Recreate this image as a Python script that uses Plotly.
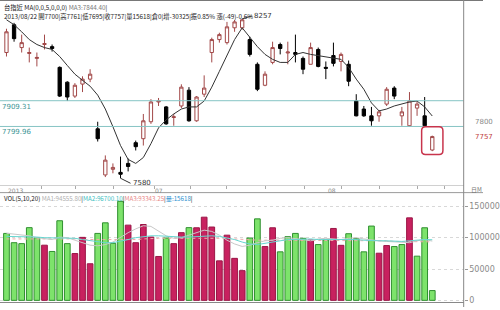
import plotly.graph_objects as go

# ---------------- data ----------------
opens = [8114, 8232, 8135, 8110, 8089, 8148, 8139, 8051, 7988, 7929,
         7980, 8001, 7790, 7594, 7618, 7605, 7643, 7731, 7748, 7820,
         7904, 7883, 7838, 7887, 7954, 7824, 7937, 8114, 8169, 8156,
         8219, 8219, 8169, 8064, 7975, 8072, 8148, 8112, 8114, 8089,
         8064, 8127, 8051, 8101, 8076, 8064, 7908, 7874, 7845, 7845,
         7895, 7963, 7845, 7803, 7878, 7845, 7700]
highs = [8215, 8240, 8190, 8135, 8114, 8190, 8148, 8055, 7992, 7984,
         8013, 8043, 7820, 7677, 7643, 7672, 7664, 7740, 7853, 7916,
         7921, 7887, 7853, 7979, 7967, 7929, 8017, 8177, 8198, 8244,
         8252, 8257, 8181, 8072, 8034, 8160, 8156, 8160, 8190, 8097,
         8156, 8135, 8076, 8156, 8114, 8080, 7937, 7887, 7883, 7870,
         7967, 7971, 7883, 7946, 7908, 7925, 7761]
lows = [8097, 8160, 8114, 8072, 8055, 8127, 8118, 7925, 7908, 7921,
        7946, 7988, 7736, 7585, 7601, 7580, 7609, 7698, 7719, 7811,
        7887, 7807, 7803, 7878, 7820, 7820, 7925, 8072, 8156, 8148,
        8202, 8211, 8097, 7950, 7971, 8064, 8106, 8064, 8072, 8022,
        8064, 8051, 8001, 8055, 8034, 7971, 7843, 7841, 7803, 7820,
        7887, 7916, 7803, 7799, 7845, 7800, 7695]
closes = [8202, 8173, 8156, 8114, 8093, 8152, 8131, 7929, 7925, 7975,
          8001, 8022, 7748, 7657, 7626, 7597, 7630, 7714, 7824, 7904,
          7908, 7811, 7841, 7967, 7824, 7925, 7963, 8169, 8190, 8223,
          8244, 8253, 8106, 7958, 8022, 8135, 8131, 8116, 8106, 8043,
          8135, 8055, 8047, 8068, 8106, 7992, 7845, 7845, 7824, 7862,
          7958, 7929, 7862, 7908, 7895, 7803, 7757]
ma5 = [8253, 8232, 8202, 8169, 8148, 8135, 8127, 8097, 8059, 8022,
       7996, 7971, 7933, 7874, 7799, 7719, 7660, 7643, 7668, 7727,
       7794, 7828, 7853, 7874, 7883, 7883, 7908, 7967, 8034, 8102,
       8169, 8219, 8181, 8139, 8106, 8085, 8072, 8072, 8106, 8114,
       8106, 8101, 8093, 8089, 8085, 8051, 8001, 7958, 7900, 7866,
       7874, 7887, 7895, 7904, 7908, 7883, 7844.40]
volumes = [106800, 92000, 90500, 116000, 100000, 88000, 78000, 127000, 90500, 74700,
           100500, 58400, 106800, 123700, 91000, 158000, 120000, 92000, 121000, 101000,
           70000, 99500, 90500, 108000, 116000, 115800, 132700, 117000, 63000, 104000,
           67000, 47400, 99500, 130000, 85800, 115800, 77400, 101600, 106800, 99000,
           96300, 89000, 96300, 114700, 87800, 106300, 98400, 77400, 118500, 75200,
           87400, 85800, 89000, 131600, 70500, 115800, 15618]
vol_dir = list("GGGGGRGGGRRRGGGGRRRRRGRRGRRRRRRRGGRRGGGGRGGRRGGGGRRGGRGGG")
vol_ma1 = [107, 106, 104, 103, 100, 98, 97, 101, 100, 96, 92, 88, 87, 89, 93, 101, 108, 114, 119, 118,
           110, 103, 99, 100, 104, 108, 112, 110, 104, 96, 90, 86, 88, 92, 95, 96, 99, 100, 99, 97,
           95, 98, 99, 98, 97, 99, 100, 98, 96, 95, 94, 93, 92, 92, 95, 97, 94.5558]
vol_ma2 = [102, 102, 101, 101, 101, 100, 100, 100, 100, 99, 97, 95, 93, 92, 92, 94, 97, 100, 102, 103,
           103, 102, 101, 101, 101, 102, 103, 103, 102, 100, 97, 93, 90, 89, 91, 94, 96, 97, 97, 98,
           98, 97, 97, 98, 98, 98, 97, 96, 95, 95, 95, 94, 94, 95, 96, 97, 96.7001]
vol_ma3 = [98, 98, 98, 99, 99, 99, 99, 99, 98, 98, 97, 97, 96, 96, 96, 96, 97, 97, 98, 99,
           99, 99, 99, 99, 100, 100, 100, 100, 100, 99, 98, 97, 96, 96, 96, 96, 96, 96, 96, 96,
           96, 96, 96, 96, 96, 96, 96, 95, 95, 95, 95, 94, 94, 94, 94, 93.5, 93.34325]
ref_levels = [7909.31, 7799.96]
ref_labels = ["7909.31", "7799.96"]
week_ticks = [4.6, 9.1, 14.1, 19.5, 24.2, 29.0, 34.1, 39.2, 44.0, 49.1, 54.0, 57.6]
month_labels = ["2013", "07", "08"]
month_pos = [-0.1, 19.3, 42.0]
vol_ticks = [0, 50000, 100000, 150000]
hi_label, lo_label = "8257", "7580"

idx = list(range(len(closes)))
vol_k_ma1 = [v * 1000 for v in vol_ma1]
vol_k_ma2 = [v * 1000 for v in vol_ma2]
vol_k_ma3 = [v * 1000 for v in vol_ma3]

# ---------------- geometry helpers ----------------
W, H = 500, 310
def py(px):
    return 1 - px / H

# price scale: price = 8337.05 - 4.206 * pixel_y
def p_at(px):
    return 8337.05 - 4.206 * px

PLOT_R = 480 / W

fig = go.Figure()
fig.add_trace(go.Candlestick(
    x=idx, open=opens, high=highs, low=lows, close=closes,
    increasing=dict(line=dict(color="#A24848", width=1), fillcolor="#FFFFFF"),
    decreasing=dict(line=dict(color="#000000", width=1), fillcolor="#000000"),
    whiskerwidth=0, showlegend=False, hoverinfo="skip", xaxis="x", yaxis="y"))
fig.add_trace(go.Scatter(x=idx, y=ma5, mode="lines", line=dict(color="#333333", width=1),
                         showlegend=False, hoverinfo="skip", xaxis="x", yaxis="y"))

fills = ["#7DE36B" if d == "G" else "#C8215F" for d in vol_dir]
edges = ["#2F8F2F" if d == "G" else "#9A1646" for d in vol_dir]
fig.add_trace(go.Bar(x=idx, y=volumes, marker=dict(color=fills, line=dict(color=edges, width=1)),
                     showlegend=False, hoverinfo="skip", xaxis="x2", yaxis="y2"))
fig.add_trace(go.Scatter(x=idx, y=vol_k_ma3, mode="lines", line=dict(color="#F0A8A8", width=1, dash="dot"),
                         showlegend=False, hoverinfo="skip", xaxis="x2", yaxis="y2"))
fig.add_trace(go.Scatter(x=idx, y=vol_k_ma1, mode="lines", line=dict(color="#C8C8C8", width=1),
                         showlegend=False, hoverinfo="skip", xaxis="x2", yaxis="y2"))
fig.add_trace(go.Scatter(x=idx, y=vol_k_ma2, mode="lines", line=dict(color="#66D6D0", width=1),
                         showlegend=False, hoverinfo="skip", xaxis="x2", yaxis="y2"))

xr = [-0.851, 60.13]
fig.update_layout(
    width=W, height=H, margin=dict(l=0, r=0, t=0, b=0),
    paper_bgcolor="white", plot_bgcolor="white",
    boxgap=0.38, bargap=0.25, showlegend=False,
    font=dict(family="Noto Sans CJK TC", size=7, color="#333"),
    xaxis=dict(domain=[0, PLOT_R], range=xr, anchor="y", rangeslider=dict(visible=False),
               showticklabels=False, ticks="outside", tickvals=week_ticks, ticklen=3,
               tickcolor="#AAAAAA", showline=True, linecolor="#D0D0D0", linewidth=1,
               showgrid=False, zeroline=False),
    yaxis=dict(domain=[py(187), py(2)], range=[p_at(187), p_at(2)], anchor="x",
               showgrid=False, showticklabels=False, zeroline=False, showline=False),
    xaxis2=dict(domain=[0, PLOT_R], range=xr, anchor="y2", showticklabels=False,
                showgrid=False, zeroline=False, showline=True, linecolor="#888888", linewidth=1,
                ticks=""),
    yaxis2=dict(domain=[py(305), py(194.5)], range=[-2690, 171880], anchor="x2", side="right",
                tickvals=vol_ticks, ticktext=[str(v) for v in vol_ticks], ticks="outside", ticklen=3,
                tickcolor="#999999", tickfont=dict(family="DejaVu Sans", size=8, color="#8A8A8A"),
                showgrid=True, gridcolor="#D8D8D8", griddash="dot", zeroline=False, showline=False),
)

shapes = []
for lvl in ref_levels:
    shapes.append(dict(type="line", xref="paper", yref="y", x0=0, x1=PLOT_R, y0=lvl, y1=lvl,
                       line=dict(color="#86C4C4", width=1)))
# frame lines
shapes.append(dict(type="line", xref="paper", yref="paper", x0=0, x1=1, y0=py(0.5), y1=py(0.5),
                   line=dict(color="#777777", width=1)))
shapes.append(dict(type="line", xref="paper", yref="paper", x0=0, x1=1, y0=py(194.5), y1=py(194.5),
                   line=dict(color="#9A9A9A", width=1)))
shapes.append(dict(type="line", xref="paper", yref="paper", x0=PLOT_R, x1=PLOT_R, y0=0, y1=1,
                   line=dict(color="#888888", width=1)))
# highlight box around the last candle
li = idx[-1]
x0, x1 = li - 1.4, li + 1.4
y0, y1 = lows[-1] - 14, highs[-1] + 38
rx, ry = 0.5, 17
path = (f"M {x0+rx},{y1} L {x1-rx},{y1} Q {x1},{y1} {x1},{y1-ry} L {x1},{y0+ry} "
        f"Q {x1},{y0} {x1-rx},{y0} L {x0+rx},{y0} Q {x0},{y0} {x0},{y0+ry} "
        f"L {x0},{y1-ry} Q {x0},{y1} {x0+rx},{y1} Z")
shapes.append(dict(type="path", xref="x", yref="y", path=path, line=dict(color="#C8344C", width=1.5)))
fig.update_layout(shapes=shapes)

ann = []
hdr1 = "台指近 MA(0,0,5,0,0,0) <span style='color:#777'>MA3:7844.40</span>|"
hdr2 = "2013/08/22 開7700|高7761|低7695|收7757|量15618|倉0|增-30325|振0.85% 漲(-49)-0.6%"
ann.append(dict(text=hdr1, xref="paper", yref="paper", x=0.004, y=py(1.5), xanchor="left", yanchor="top",
                showarrow=False, font=dict(size=6.3, color="#222")))
ann.append(dict(text=hdr2, xref="paper", yref="paper", x=0.004, y=py(10), xanchor="left", yanchor="top",
                showarrow=False, font=dict(size=6.3, color="#222")))
vh = ("VOL(5,10,20) <span style='color:#B0B0B0'>MA1:94555.80</span>|"
      "<span style='color:#3CC0C0'>MA2:96700.10</span>|<span style='color:#E88888'>MA3:93343.25</span>|"
      "<span style='color:#2A8FD0'>量:15618</span>|")
ann.append(dict(text=vh, xref="paper", yref="paper", x=0.004, y=py(193.5), xanchor="left", yanchor="top",
                showarrow=False, font=dict(size=6.2, color="#222")))
for lvl, lab in zip(ref_levels, ref_labels):
    ann.append(dict(text=lab, xref="paper", yref="y", x=0.0, y=lvl, xanchor="left", yanchor="top",
                    yshift=0, showarrow=False, font=dict(family="DejaVu Sans", size=7, color="#3E9494")))
for lab, pos in zip(month_labels, month_pos):
    ann.append(dict(text=lab, xref="x", yref="paper", x=pos, y=py(186.5), xanchor="left", yanchor="top",
                    showarrow=False, font=dict(family="DejaVu Sans", size=6, color="#8A8A8A")))
ann.append(dict(text="7800", xref="paper", yref="y", x=0.979, y=7800, xanchor="left", yanchor="middle",
                yshift=4, showarrow=False, font=dict(family="DejaVu Sans", size=7, color="#8A8A8A")))
ann.append(dict(text=str(closes[-1]), xref="paper", yref="y", x=0.979, y=closes[-1], xanchor="left",
                yanchor="middle", showarrow=False, font=dict(family="DejaVu Sans", size=7, color="#C04040")))
ann.append(dict(text="日M", xref="paper", yref="paper", x=0.97, y=py(185), xanchor="left", yanchor="top",
                showarrow=False, font=dict(size=6, color="#777")))
hi_i = highs.index(max(highs))
lo_i = lows.index(min(lows))
ann.append(dict(text=hi_label, xref="x", yref="y", x=hi_i, y=highs[hi_i], ax=10, ay=-3, xanchor="left",
                showarrow=True, arrowhead=0, arrowwidth=1, arrowcolor="#333",
                font=dict(family="DejaVu Sans", size=7, color="#333")))
ann.append(dict(text=lo_label, xref="x", yref="y", x=lo_i, y=lows[lo_i], ax=10, ay=5, xanchor="left",
                showarrow=True, arrowhead=0, arrowwidth=1, arrowcolor="#333",
                font=dict(family="DejaVu Sans", size=7, color="#333")))
fig.update_layout(annotations=ann)

fig.write_html("out.html")
